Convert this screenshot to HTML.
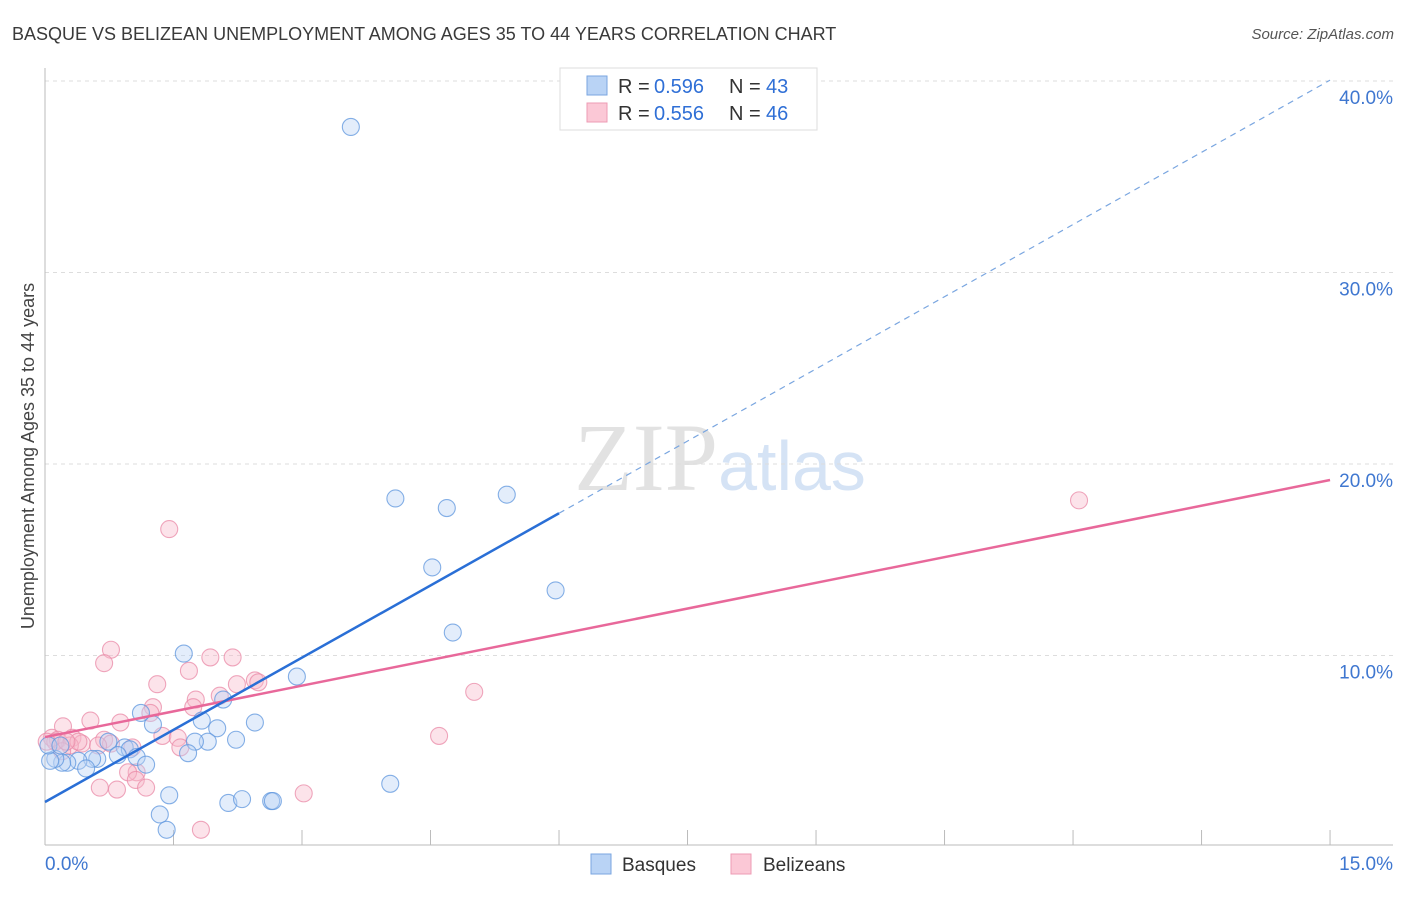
<!DOCTYPE html>
<html><head><meta charset="utf-8"><style>
body{margin:0;background:#fff;font-family:"Liberation Sans",sans-serif}
</style></head><body>
<svg id="chart" width="1406" height="892" xmlns="http://www.w3.org/2000/svg" font-family="Liberation Sans, sans-serif">
<text x="12" y="40" font-size="18" fill="#3a3a3a">BASQUE VS BELIZEAN UNEMPLOYMENT AMONG AGES 35 TO 44 YEARS CORRELATION CHART</text>
<text x="1394" y="39" font-size="15" fill="#555" text-anchor="end" font-style="italic">Source: ZipAtlas.com</text>
<text x="720" y="490" font-size="96" fill="#e2e2e2" text-anchor="middle" font-family="Liberation Serif, serif">ZIP<tspan fill="#d5e3f5" font-family="Liberation Sans, sans-serif" font-size="70">atlas</tspan></text>
<g id="grid"></g>
<g id="axes"></g>
<g id="marks"></g>
<text transform="translate(34,456) rotate(-90)" font-size="18" fill="#444" text-anchor="middle">Unemployment Among Ages 35 to 44 years</text>
<g font-size="20">
<rect x="560" y="68" width="257" height="62" fill="#fff" stroke="#ddd"/>
<rect x="587" y="76" width="20" height="19" fill="#b9d3f5" stroke="#7aa6e0"/>
<rect x="587" y="103" width="20" height="19" fill="#fbc8d6" stroke="#ee9bb4"/>
<text x="618" y="93" fill="#333">R =</text><text x="654" y="93" fill="#2f6fd6">0.596</text><text x="729" y="93" fill="#333">N =</text><text x="766" y="93" fill="#2f6fd6">43</text>
<text x="618" y="120" fill="#333">R =</text><text x="654" y="120" fill="#2f6fd6">0.556</text><text x="729" y="120" fill="#333">N =</text><text x="766" y="120" fill="#2f6fd6">46</text>
</g>
<g>
<rect x="591" y="854" width="20" height="20" fill="#b9d3f5" stroke="#7aa6e0"/>
<text x="622" y="871" font-size="19" fill="#333">Basques</text>
<rect x="731" y="854" width="20" height="20" fill="#fbc8d6" stroke="#ee9bb4"/>
<text x="763" y="871" font-size="19" fill="#333">Belizeans</text>
</g>
</svg>
<script>
const xTickLabels=["0.0%","15.0%"];
const yTicks=[10,20,30,40];
const yTickLabels=["10.0%","20.0%","30.0%","40.0%"];
const basqueX=[3.57,4.09,4.69,5.39,4.52,5.96,4.76,1.62,2.94,2.08,1.83,2.45,1.26,2.01,2.23,1.90,1.75,1.67,1.12,0.74,0.93,0.99,0.85,1.07,1.18,0.61,0.55,0.39,0.48,0.26,0.20,0.12,0.06,0.04,4.03,1.45,2.14,2.30,2.64,2.66,1.34,1.42,0.18];
const basqueY=[37.6,18.2,17.7,18.4,14.6,13.4,11.2,10.1,8.9,7.7,6.6,6.5,6.4,6.2,5.6,5.5,5.5,4.9,7.0,5.5,5.2,5.1,4.8,4.7,4.3,4.6,4.6,4.5,4.1,4.4,4.4,4.6,4.5,5.3,3.3,2.7,2.3,2.5,2.4,2.4,1.7,0.9,5.3];
const belizeX=[1.45,12.07,0.77,0.69,1.93,2.19,1.68,1.31,2.24,2.45,2.49,5.01,1.76,2.04,1.26,1.73,1.23,0.88,0.53,0.21,1.37,1.55,4.60,0.08,0.15,0.32,0.69,0.43,0.77,1.02,0.62,1.58,0.29,0.12,0.20,1.07,0.97,1.06,0.64,0.84,1.18,3.02,1.82,0.02,0.39,0.25];
const belizeY=[16.6,18.1,10.3,9.6,9.9,9.9,9.2,8.5,8.5,8.7,8.6,8.1,7.7,7.9,7.3,7.3,7.0,6.5,6.6,6.3,5.8,5.7,5.8,5.7,5.6,5.7,5.6,5.4,5.4,5.2,5.3,5.2,5.3,5.5,5.0,3.9,3.9,3.5,3.1,3.0,3.1,2.8,0.9,5.5,5.5,5.5];
const basqueLine=[2.35,2.513];
const belizeLine=[5.74,0.895];
const X=v=>45+v*85.67, Y=v=>847-v*19.15;
const NS="http://www.w3.org/2000/svg";
function mk(parent,tag,attrs){const e=document.createElementNS(NS,tag);for(const k in attrs)e.setAttribute(k,attrs[k]);document.getElementById(parent).appendChild(e);return e;}
yTicks.forEach((t,i)=>{
 const g=mk('grid','line',{x1:45,x2:1393,y1:Y(t),y2:Y(t),stroke:'#ddd','stroke-dasharray':'4,4'});
 
 
 const l=mk('grid','text',{x:1393,y:Y(t)+23,'font-size':19,fill:'#3f77d0','text-anchor':'end'});
 l.textContent=yTickLabels[i];
 
 
});
let a=mk('axes','line',{x1:45,x2:45,y1:68,y2:845,stroke:'#bbb'});


a=mk('axes','line',{x1:45,x2:1393,y1:845,y2:845,stroke:'#bbb'});


for(let i=1;i<=10;i++){const t=mk('axes','line',{x1:X(i*1.5),x2:X(i*1.5),y1:830,y2:845,stroke:'#bbb'});
 
 }
[[0,'start',45],[15,'end',1393]].forEach((d,i)=>{const t=mk('axes','text',{x:d[2],y:870,'font-size':19,fill:'#3f77d0','text-anchor':d[1]});t.textContent=xTickLabels[i];
 
 });
function pts(xs,ys,fill,stroke,name){xs.forEach((x,i)=>{const c=mk('marks','circle',{cx:X(x),cy:Y(ys[i]),r:8.5,fill:fill,'fill-opacity':0.4,stroke:stroke,'stroke-opacity':0.75,'stroke-width':1.1});
 
 });}
pts(belizeX,belizeY,'#f7b8ca','#e98aa7','belizean-point');
pts(basqueX,basqueY,'#b9d3f5','#5e95dd','basque-point');
let l=mk('marks','line',{x1:X(0),y1:Y(belizeLine[0]),x2:X(15),y2:Y(belizeLine[0]+15*belizeLine[1]),stroke:'#e8689a','stroke-width':2.5});


l=mk('marks','line',{x1:X(0),y1:Y(basqueLine[0]),x2:X(6.0),y2:Y(basqueLine[0]+6.0*basqueLine[1]),stroke:'#2a6fd6','stroke-width':2.5});


l=mk('marks','line',{x1:X(6.0),y1:Y(basqueLine[0]+6.0*basqueLine[1]),x2:X(15),y2:Y(basqueLine[0]+15*basqueLine[1]),stroke:'#7aa6e0','stroke-width':1.2,'stroke-dasharray':'6,5'});


</script>
</body></html>
